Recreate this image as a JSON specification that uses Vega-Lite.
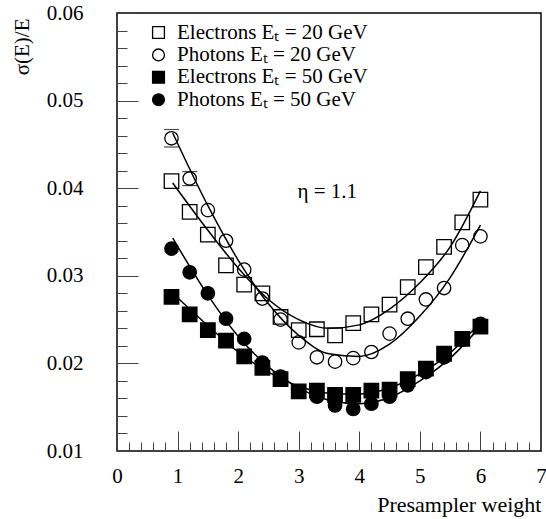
{
  "$schema": "https://vega.github.io/schema/vega-lite/v6.json",
  "width": 424,
  "height": 438,
  "autosize": "none",
  "padding": {"left": 117, "top": 13, "right": 5, "bottom": 68},
  "config": {
    "font": "Liberation Serif",
    "background": "white",
    "view": {"stroke": "black", "strokeWidth": 1.5},
    "axis": {
      "domain": false,
      "grid": false,
      "tickColor": "#444",
      "tickWidth": 1,
      "labelFont": "Liberation Serif",
      "labelFontSize": 21,
      "labelColor": "black",
      "titleFont": "Liberation Serif",
      "titleFontSize": 22,
      "titleFontWeight": "normal",
      "titleColor": "black",
      "labelOverlap": false,
      "labelFlush": false,
      "labelBound": false
    }
  },
  "datasets": {
    "points": [
      {"w": 0.9, "s": "Electrons Eₜ = 20 GeV", "v": 0.0408},
      {"w": 1.2, "s": "Electrons Eₜ = 20 GeV", "v": 0.0373},
      {"w": 1.5, "s": "Electrons Eₜ = 20 GeV", "v": 0.0347},
      {"w": 1.8, "s": "Electrons Eₜ = 20 GeV", "v": 0.0312},
      {"w": 2.1, "s": "Electrons Eₜ = 20 GeV", "v": 0.0290},
      {"w": 2.4, "s": "Electrons Eₜ = 20 GeV", "v": 0.0280},
      {"w": 2.7, "s": "Electrons Eₜ = 20 GeV", "v": 0.0253},
      {"w": 3.0, "s": "Electrons Eₜ = 20 GeV", "v": 0.0238},
      {"w": 3.3, "s": "Electrons Eₜ = 20 GeV", "v": 0.0239},
      {"w": 3.6, "s": "Electrons Eₜ = 20 GeV", "v": 0.0232},
      {"w": 3.9, "s": "Electrons Eₜ = 20 GeV", "v": 0.0246},
      {"w": 4.2, "s": "Electrons Eₜ = 20 GeV", "v": 0.0256},
      {"w": 4.5, "s": "Electrons Eₜ = 20 GeV", "v": 0.0267},
      {"w": 4.8, "s": "Electrons Eₜ = 20 GeV", "v": 0.0287},
      {"w": 5.1, "s": "Electrons Eₜ = 20 GeV", "v": 0.0310},
      {"w": 5.4, "s": "Electrons Eₜ = 20 GeV", "v": 0.0333},
      {"w": 5.7, "s": "Electrons Eₜ = 20 GeV", "v": 0.0361},
      {"w": 6.0, "s": "Electrons Eₜ = 20 GeV", "v": 0.0387},
      {"w": 0.9, "s": "Photons Eₜ = 20 GeV", "v": 0.0457, "lo": 0.0447, "hi": 0.0467},
      {"w": 1.2, "s": "Photons Eₜ = 20 GeV", "v": 0.0411, "lo": 0.0403, "hi": 0.0419},
      {"w": 1.5, "s": "Photons Eₜ = 20 GeV", "v": 0.0375},
      {"w": 1.8, "s": "Photons Eₜ = 20 GeV", "v": 0.0340},
      {"w": 2.1, "s": "Photons Eₜ = 20 GeV", "v": 0.0307},
      {"w": 2.4, "s": "Photons Eₜ = 20 GeV", "v": 0.0274},
      {"w": 2.7, "s": "Photons Eₜ = 20 GeV", "v": 0.0250},
      {"w": 3.0, "s": "Photons Eₜ = 20 GeV", "v": 0.0224},
      {"w": 3.3, "s": "Photons Eₜ = 20 GeV", "v": 0.0207},
      {"w": 3.6, "s": "Photons Eₜ = 20 GeV", "v": 0.0202},
      {"w": 3.9, "s": "Photons Eₜ = 20 GeV", "v": 0.0206},
      {"w": 4.2, "s": "Photons Eₜ = 20 GeV", "v": 0.0213},
      {"w": 4.5, "s": "Photons Eₜ = 20 GeV", "v": 0.0234},
      {"w": 4.8, "s": "Photons Eₜ = 20 GeV", "v": 0.0251},
      {"w": 5.1, "s": "Photons Eₜ = 20 GeV", "v": 0.0273},
      {"w": 5.4, "s": "Photons Eₜ = 20 GeV", "v": 0.0286},
      {"w": 5.7, "s": "Photons Eₜ = 20 GeV", "v": 0.0335},
      {"w": 6.0, "s": "Photons Eₜ = 20 GeV", "v": 0.0345},
      {"w": 0.9, "s": "Electrons Eₜ = 50 GeV", "v": 0.0276},
      {"w": 1.2, "s": "Electrons Eₜ = 50 GeV", "v": 0.0256},
      {"w": 1.5, "s": "Electrons Eₜ = 50 GeV", "v": 0.0238},
      {"w": 1.8, "s": "Electrons Eₜ = 50 GeV", "v": 0.0226},
      {"w": 2.1, "s": "Electrons Eₜ = 50 GeV", "v": 0.0208},
      {"w": 2.4, "s": "Electrons Eₜ = 50 GeV", "v": 0.0195},
      {"w": 2.7, "s": "Electrons Eₜ = 50 GeV", "v": 0.0182},
      {"w": 3.0, "s": "Electrons Eₜ = 50 GeV", "v": 0.0168},
      {"w": 3.3, "s": "Electrons Eₜ = 50 GeV", "v": 0.0169},
      {"w": 3.6, "s": "Electrons Eₜ = 50 GeV", "v": 0.0164},
      {"w": 3.9, "s": "Electrons Eₜ = 50 GeV", "v": 0.0164},
      {"w": 4.2, "s": "Electrons Eₜ = 50 GeV", "v": 0.0169},
      {"w": 4.5, "s": "Electrons Eₜ = 50 GeV", "v": 0.0170},
      {"w": 4.8, "s": "Electrons Eₜ = 50 GeV", "v": 0.0182},
      {"w": 5.1, "s": "Electrons Eₜ = 50 GeV", "v": 0.0194},
      {"w": 5.4, "s": "Electrons Eₜ = 50 GeV", "v": 0.0211},
      {"w": 5.7, "s": "Electrons Eₜ = 50 GeV", "v": 0.0228},
      {"w": 6.0, "s": "Electrons Eₜ = 50 GeV", "v": 0.0242},
      {"w": 0.9, "s": "Photons Eₜ = 50 GeV", "v": 0.0331},
      {"w": 1.2, "s": "Photons Eₜ = 50 GeV", "v": 0.0304},
      {"w": 1.5, "s": "Photons Eₜ = 50 GeV", "v": 0.0280},
      {"w": 1.8, "s": "Photons Eₜ = 50 GeV", "v": 0.0251},
      {"w": 2.1, "s": "Photons Eₜ = 50 GeV", "v": 0.0228},
      {"w": 2.4, "s": "Photons Eₜ = 50 GeV", "v": 0.0201},
      {"w": 2.7, "s": "Photons Eₜ = 50 GeV", "v": 0.0185},
      {"w": 3.0, "s": "Photons Eₜ = 50 GeV", "v": 0.0168},
      {"w": 3.3, "s": "Photons Eₜ = 50 GeV", "v": 0.0162},
      {"w": 3.6, "s": "Photons Eₜ = 50 GeV", "v": 0.0152},
      {"w": 3.9, "s": "Photons Eₜ = 50 GeV", "v": 0.0148},
      {"w": 4.2, "s": "Photons Eₜ = 50 GeV", "v": 0.0154},
      {"w": 4.5, "s": "Photons Eₜ = 50 GeV", "v": 0.0162},
      {"w": 4.8, "s": "Photons Eₜ = 50 GeV", "v": 0.0175},
      {"w": 5.1, "s": "Photons Eₜ = 50 GeV", "v": 0.0190},
      {"w": 5.4, "s": "Photons Eₜ = 50 GeV", "v": 0.0207},
      {"w": 5.7, "s": "Photons Eₜ = 50 GeV", "v": 0.0227},
      {"w": 6.0, "s": "Photons Eₜ = 50 GeV", "v": 0.0245}
    ],
    "fits": [
      {"w": 0.92, "s": "E20", "v": 0.0406},
      {"w": 1.5, "s": "E20", "v": 0.0352},
      {"w": 2.0, "s": "E20", "v": 0.0309},
      {"w": 2.5, "s": "E20", "v": 0.0273},
      {"w": 3.0, "s": "E20", "v": 0.0250},
      {"w": 3.5, "s": "E20", "v": 0.0240},
      {"w": 4.0, "s": "E20", "v": 0.0244},
      {"w": 4.5, "s": "E20", "v": 0.0262},
      {"w": 5.0, "s": "E20", "v": 0.0292},
      {"w": 5.5, "s": "E20", "v": 0.0333},
      {"w": 6.0, "s": "E20", "v": 0.0397},
      {"w": 0.92, "s": "P20", "v": 0.0463},
      {"w": 1.5, "s": "P20", "v": 0.0380},
      {"w": 2.0, "s": "P20", "v": 0.0318},
      {"w": 2.5, "s": "P20", "v": 0.0268},
      {"w": 3.0, "s": "P20", "v": 0.0232},
      {"w": 3.5, "s": "P20", "v": 0.0211},
      {"w": 4.0, "s": "P20", "v": 0.0208},
      {"w": 4.5, "s": "P20", "v": 0.0222},
      {"w": 5.0, "s": "P20", "v": 0.0254},
      {"w": 5.5, "s": "P20", "v": 0.0298},
      {"w": 6.0, "s": "P20", "v": 0.0358},
      {"w": 0.92, "s": "E50", "v": 0.0280},
      {"w": 1.5, "s": "E50", "v": 0.0243},
      {"w": 2.0, "s": "E50", "v": 0.0213},
      {"w": 2.5, "s": "E50", "v": 0.0190},
      {"w": 3.0, "s": "E50", "v": 0.0174},
      {"w": 3.5, "s": "E50", "v": 0.0166},
      {"w": 4.0, "s": "E50", "v": 0.0165},
      {"w": 4.5, "s": "E50", "v": 0.0172},
      {"w": 5.0, "s": "E50", "v": 0.0188},
      {"w": 5.5, "s": "E50", "v": 0.0212},
      {"w": 6.0, "s": "E50", "v": 0.0247},
      {"w": 0.92, "s": "P50", "v": 0.0343},
      {"w": 1.5, "s": "P50", "v": 0.0278},
      {"w": 2.0, "s": "P50", "v": 0.0231},
      {"w": 2.5, "s": "P50", "v": 0.0196},
      {"w": 3.0, "s": "P50", "v": 0.0172},
      {"w": 3.5, "s": "P50", "v": 0.0158},
      {"w": 4.0, "s": "P50", "v": 0.0154},
      {"w": 4.5, "s": "P50", "v": 0.0161},
      {"w": 5.0, "s": "P50", "v": 0.0180},
      {"w": 5.5, "s": "P50", "v": 0.0206},
      {"w": 6.0, "s": "P50", "v": 0.0242}
    ],
    "notes": [
      {"w": 3.47, "v": 0.0389, "label": "η = 1.1"}
    ]
  },
  "encoding": {
    "x": {
      "field": "w",
      "type": "quantitative",
      "scale": {"domain": [0, 7], "nice": false, "zero": false},
      "axis": {
        "values": [0, 0.2, 0.4, 0.6, 0.8, 1, 1.2, 1.4, 1.6, 1.8, 2, 2.2, 2.4, 2.6, 2.8, 3, 3.2, 3.4, 3.6, 3.8, 4, 4.2, 4.4, 4.6, 4.8, 5, 5.2, 5.4, 5.6, 5.8, 6, 6.2, 6.4, 6.6, 6.8, 7],
        "tickSize": {"condition": {"test": "abs(datum.value - round(datum.value)) < 0.001", "value": -20}, "value": -9},
        "labelExpr": "abs(datum.value - round(datum.value)) < 0.001 ? format(datum.value, 'd') : ''",
        "labelPadding": 34,
        "title": "Presampler weight",
        "titleX": 424,
        "titleY": 60,
        "titleAlign": "right",
        "titleBaseline": "alphabetic"
      }
    },
    "y": {
      "field": "v",
      "type": "quantitative",
      "scale": {"domain": [0.01, 0.06], "nice": false, "zero": false},
      "axis": {
        "values": [0.01, 0.012, 0.014, 0.016, 0.018, 0.02, 0.022, 0.024, 0.026, 0.028, 0.03, 0.032, 0.034, 0.036, 0.038, 0.04, 0.042, 0.044, 0.046, 0.048, 0.05, 0.052, 0.054, 0.056, 0.058, 0.06],
        "tickSize": {"condition": {"test": "abs(datum.value * 100 - round(datum.value * 100)) < 0.001", "value": -21}, "value": -10},
        "labelExpr": "abs(datum.value * 100 - round(datum.value * 100)) < 0.001 ? format(datum.value, '.2f') : ''",
        "labelPadding": 55,
        "title": "σ(E)/E",
        "titleFontSize": 21,
        "titleAngle": 270,
        "titleX": -89,
        "titleY": 5,
        "titleAlign": "right",
        "titleBaseline": "alphabetic"
      }
    }
  },
  "layer": [
    {
      "data": {"name": "fits"},
      "mark": {"type": "line", "color": "black", "strokeWidth": 1.5, "interpolate": "monotone"},
      "encoding": {"detail": {"field": "s"}}
    },
    {
      "data": {"name": "points"},
      "transform": [{"filter": "isValid(datum.hi)"}],
      "mark": {"type": "tick", "orient": "horizontal", "color": "black", "size": 15, "thickness": 1.2},
      "encoding": {"y": {"field": "hi", "type": "quantitative"}}
    },
    {
      "data": {"name": "points"},
      "transform": [{"filter": "isValid(datum.lo)"}],
      "mark": {"type": "tick", "orient": "horizontal", "color": "black", "size": 15, "thickness": 1.2},
      "encoding": {"y": {"field": "lo", "type": "quantitative"}}
    },
    {
      "data": {"name": "points"},
      "transform": [{"filter": "indexof(datum.s, 'Electrons') === 0"}],
      "mark": {"type": "point", "strokeWidth": 1.3, "size": 210, "opacity": 1},
      "encoding": {
        "shape": {
          "field": "s",
          "type": "nominal",
          "scale": {
            "domain": ["Electrons Eₜ = 20 GeV", "Photons Eₜ = 20 GeV", "Electrons Eₜ = 50 GeV", "Photons Eₜ = 50 GeV"],
            "range": ["square", "circle", "square", "circle"]
          },
          "legend": {
            "orient": "none", "legendX": 31, "legendY": 9, "title": null,
            "symbolSize": 140, "symbolStrokeWidth": 1.3,
            "labelFontSize": 21, "labelFont": "Liberation Serif", "labelColor": "black",
            "labelOffset": 8, "rowPadding": 0.4, "padding": 0, "labelLimit": 0
          }
        },
        "fill": {
          "field": "s",
          "type": "nominal",
          "scale": {
            "domain": ["Electrons Eₜ = 20 GeV", "Photons Eₜ = 20 GeV", "Electrons Eₜ = 50 GeV", "Photons Eₜ = 50 GeV"],
            "range": ["transparent", "transparent", "black", "black"]
          },
          "legend": {
            "orient": "none", "legendX": 31, "legendY": 9, "title": null,
            "symbolSize": 140, "symbolStrokeWidth": 1.3,
            "labelFontSize": 21, "labelFont": "Liberation Serif", "labelColor": "black",
            "labelOffset": 8, "rowPadding": 0.4, "padding": 0, "labelLimit": 0
          }
        },
        "stroke": {
          "field": "s",
          "type": "nominal",
          "scale": {
            "domain": ["Electrons Eₜ = 20 GeV", "Photons Eₜ = 20 GeV", "Electrons Eₜ = 50 GeV", "Photons Eₜ = 50 GeV"],
            "range": ["black", "black", "black", "black"]
          },
          "legend": {
            "orient": "none", "legendX": 31, "legendY": 9, "title": null,
            "symbolSize": 140, "symbolStrokeWidth": 1.3,
            "labelFontSize": 21, "labelFont": "Liberation Serif", "labelColor": "black",
            "labelOffset": 8, "rowPadding": 0.4, "padding": 0, "labelLimit": 0
          }
        }
      }
    },
    {
      "data": {"name": "points"},
      "transform": [{"filter": "indexof(datum.s, 'Photons') === 0"}],
      "mark": {"type": "point", "strokeWidth": 1.3, "size": 180, "opacity": 1},
      "encoding": {
        "shape": {"field": "s", "type": "nominal"},
        "fill": {"field": "s", "type": "nominal"},
        "stroke": {"field": "s", "type": "nominal"}
      }
    },
    {
      "data": {"name": "notes"},
      "mark": {"type": "text", "fontSize": 21, "font": "Liberation Serif", "align": "center", "baseline": "alphabetic", "color": "black"},
      "encoding": {"text": {"field": "label"}}
    }
  ]
}
